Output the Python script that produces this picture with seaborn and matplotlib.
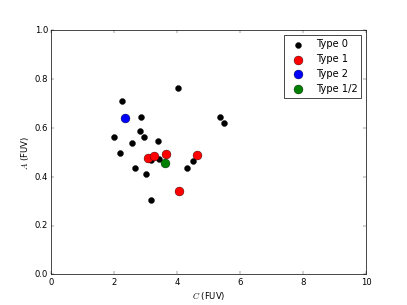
import matplotlib
matplotlib.use('Agg')
import matplotlib.pyplot as plt
import numpy as np
import pandas as pd
import seaborn as sns

# values
type0_c = [4.03, 2.26, 2.86, 5.35, 5.49, 2.81, 2.01, 2.94, 3.41, 2.57, 2.20,
           3.17, 3.44, 2.66, 4.31, 4.49, 3.00, 3.19]
type0_a = [0.762, 0.711, 0.645, 0.645, 0.621, 0.586, 0.562, 0.564, 0.545, 0.540,
           0.497, 0.467, 0.474, 0.437, 0.437, 0.464, 0.411, 0.305]
type1_c = [3.07, 3.27, 3.64, 4.62, 4.07]
type1_a = [0.479, 0.484, 0.495, 0.489, 0.342]
type2_c = [2.36]
type2_a = [0.642]
type12_c = [3.62]
type12_a = [0.458]

groups = [
    ('Type 0', type0_c, type0_a, 'black', 72),
    ('Type 1', type1_c, type1_a, 'red', 160),
    ('Type 2', type2_c, type2_a, 'blue', 160),
    ('Type 1/2', type12_c, type12_a, 'green', 160),
]

plt.style.use('classic')
fig, ax = plt.subplots(figsize=(8, 6), dpi=50.875)

for label, c, a, col, size in groups:
    df = pd.DataFrame({'C': c, 'A': a})
    sns.scatterplot(data=df, x='C', y='A', color=col, s=size, ax=ax,
                    edgecolor='black', linewidth=0.5, label=label, zorder=3)

ax.set_xlim(0, 10)
ax.set_ylim(0, 1.0)
ax.set_xticks(np.arange(0, 11, 2))
ax.set_yticks(np.arange(0, 1.01, 0.2))
ax.set_xlabel('$C$ (FUV)')
ax.set_ylabel('$A$ (FUV)')
ax.legend(loc='upper right', scatterpoints=1, fontsize=14)

fig.savefig('out.png', dpi=50.875)
